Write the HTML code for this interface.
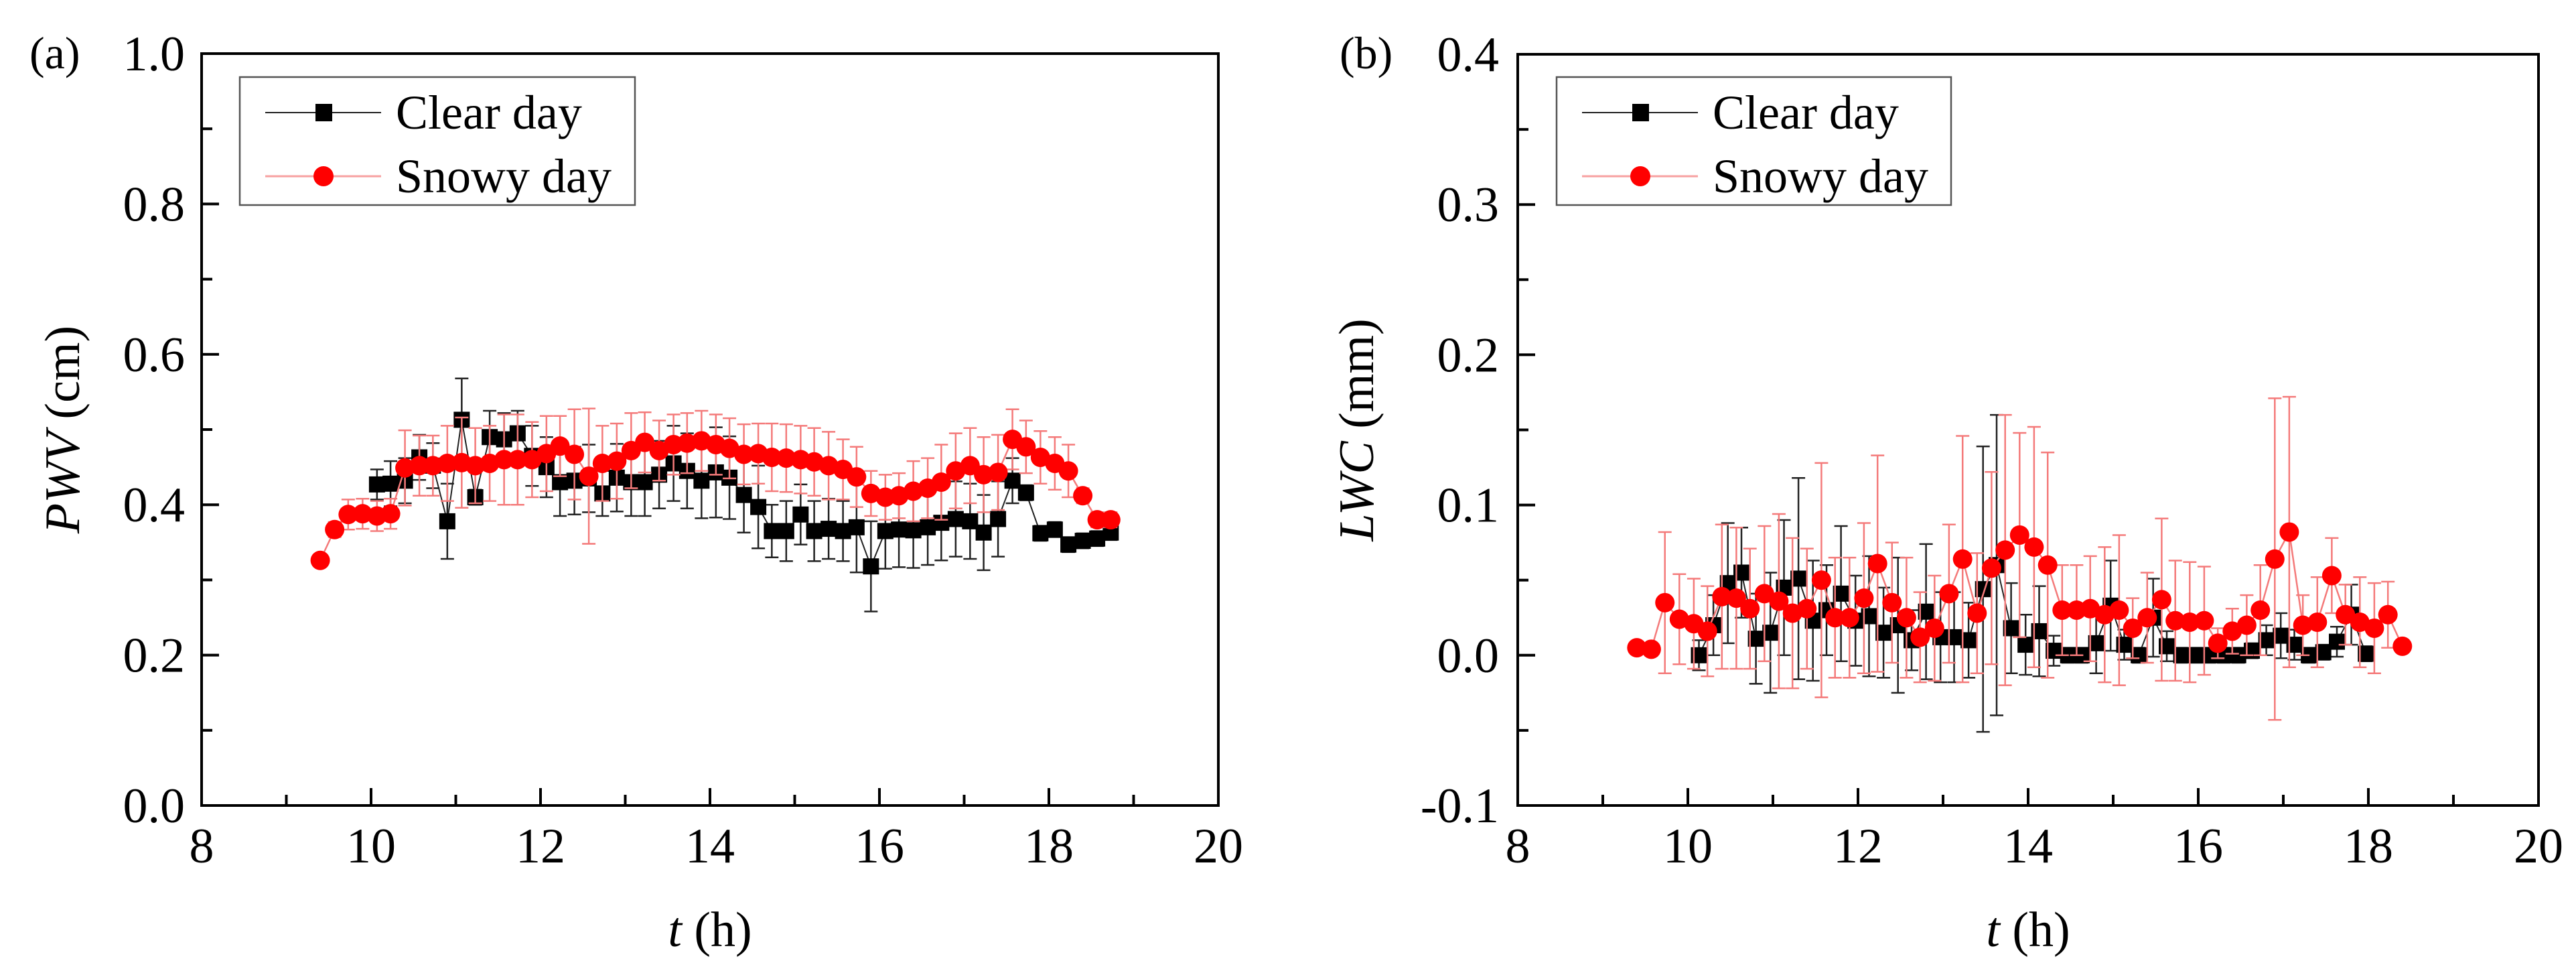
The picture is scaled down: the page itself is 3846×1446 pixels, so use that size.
<!DOCTYPE html>
<html><head><meta charset="utf-8">
<style>
html,body{margin:0;padding:0;background:#fff;}
svg{display:block;font-family:"Liberation Serif",serif;}
</style></head>
<body>
<svg id="fig" width="3846" height="1446" viewBox="0 0 3846 1446" xmlns="http://www.w3.org/2000/svg">
<g id="pa"></g>
<g id="pb"></g>
</svg>
<script>
// ---- Panel (a) PWV data ----
const aSnowT = [9.4,9.57,9.73,9.9,10.07,10.23,10.4,10.57,10.73,10.9,11.07,11.23,11.4,11.57,11.73,11.9,12.07,12.23,12.4,12.57,12.73,12.9,13.07,13.23,13.4,13.57,13.73,13.9,14.07,14.23,14.4,14.57,14.73,14.9,15.07,15.23,15.4,15.57,15.73,15.9,16.07,16.23,16.4,16.57,16.73,16.9,17.07,17.23,17.4,17.57,17.73,17.9,18.07,18.23,18.4,18.57,18.73];
const aSnowV = [0.326,0.367,0.387,0.388,0.385,0.388,0.449,0.452,0.452,0.455,0.456,0.452,0.455,0.46,0.46,0.46,0.468,0.478,0.467,0.438,0.455,0.458,0.472,0.483,0.472,0.48,0.482,0.485,0.48,0.475,0.467,0.468,0.463,0.462,0.46,0.457,0.452,0.447,0.437,0.415,0.41,0.412,0.418,0.422,0.43,0.445,0.452,0.44,0.443,0.487,0.477,0.463,0.455,0.445,0.412,0.38,0.38];
const aSnowE = [0,0.01,0.02,0.02,0.02,0.02,0.05,0.04,0.04,0.05,0.06,0.05,0.05,0.06,0.06,0.05,0.05,0.04,0.06,0.09,0.05,0.05,0.05,0.04,0.04,0.04,0.04,0.04,0.04,0.04,0.04,0.04,0.045,0.045,0.045,0.045,0.045,0.04,0.04,0.03,0.03,0.03,0.04,0.04,0.05,0.05,0.05,0.05,0.05,0.04,0.035,0.035,0.035,0.035,0.01,0.01,0.01];
const aClearT = [10.07,10.23,10.4,10.57,10.73,10.9,11.07,11.23,11.4,11.57,11.73,11.9,12.07,12.23,12.4,12.57,12.73,12.9,13.07,13.23,13.4,13.57,13.73,13.9,14.07,14.23,14.4,14.57,14.73,14.9,15.07,15.23,15.4,15.57,15.73,15.9,16.07,16.23,16.4,16.57,16.73,16.9,17.07,17.23,17.4,17.57,17.73,17.9,18.07,18.23,18.4,18.57,18.73];
const aClearV = [0.427,0.428,0.432,0.463,0.452,0.378,0.513,0.41,0.49,0.487,0.495,0.465,0.45,0.43,0.432,0.435,0.415,0.436,0.43,0.43,0.44,0.455,0.445,0.432,0.443,0.436,0.413,0.397,0.365,0.365,0.387,0.365,0.368,0.365,0.37,0.318,0.365,0.367,0.366,0.37,0.376,0.381,0.378,0.363,0.381,0.432,0.416,0.362,0.367,0.347,0.352,0.355,0.363];
const aClearE = [0.02,0.03,0.03,0.03,0.03,0.05,0.055,0.01,0.035,0.035,0.03,0.04,0.04,0.045,0.045,0.045,0.03,0.045,0.045,0.045,0.045,0.05,0.05,0.05,0.06,0.055,0.05,0.055,0.035,0.04,0.04,0.04,0.04,0.04,0.06,0.06,0.05,0.05,0.05,0.05,0.05,0.05,0.05,0.05,0.05,0.03,0.01,0.01,0.01,0.01,0.01,0.01,0.01];
const aYTicks = ["0.0","0.2","0.4","0.6","0.8","1.0"];
const aYVals = [0,0.2,0.4,0.6,0.8,1.0];
// ---- Panel (b) LWC data ----
const bSnowT = [9.4,9.57,9.73,9.9,10.07,10.23,10.4,10.57,10.73,10.9,11.07,11.23,11.4,11.57,11.73,11.9,12.07,12.23,12.4,12.57,12.73,12.9,13.07,13.23,13.4,13.57,13.73,13.9,14.07,14.23,14.4,14.57,14.73,14.9,15.07,15.23,15.4,15.57,15.73,15.9,16.07,16.23,16.4,16.57,16.73,16.9,17.07,17.23,17.4,17.57,17.73,17.9,18.07,18.23,18.4];
const bSnowV = [0.005,0.004,0.035,0.024,0.021,0.016,0.039,0.038,0.031,0.041,0.036,0.028,0.031,0.05,0.025,0.025,0.038,0.061,0.035,0.025,0.012,0.018,0.041,0.064,0.028,0.058,0.07,0.08,0.072,0.06,0.03,0.03,0.031,0.027,0.03,0.018,0.025,0.037,0.023,0.022,0.023,0.008,0.016,0.02,0.03,0.064,0.082,0.02,0.022,0.053,0.027,0.022,0.018,0.027,0.006];
const bSnowE = [0,0,0.047,0.03,0.03,0.03,0.048,0.047,0.04,0.045,0.058,0.05,0.04,0.078,0.04,0.04,0.05,0.072,0.04,0.04,0.03,0.035,0.046,0.082,0.04,0.064,0.09,0.068,0.08,0.075,0.03,0.03,0.035,0.045,0.05,0.02,0.03,0.054,0.04,0.04,0.036,0.01,0.015,0.02,0.03,0.107,0.09,0.02,0.03,0.025,0.02,0.03,0.03,0.022,0];
const bClearT = [10.13,10.3,10.47,10.63,10.8,10.97,11.13,11.3,11.47,11.63,11.8,11.97,12.13,12.3,12.47,12.63,12.8,12.97,13.13,13.3,13.47,13.63,13.8,13.97,14.13,14.3,14.47,14.63,14.8,14.97,15.13,15.3,15.47,15.63,15.8,15.97,16.13,16.3,16.47,16.63,16.8,16.97,17.13,17.3,17.47,17.63,17.8,17.97];
const bClearV = [0.0,0.02,0.048,0.055,0.011,0.015,0.045,0.051,0.023,0.03,0.041,0.023,0.026,0.015,0.02,0.01,0.029,0.012,0.012,0.01,0.044,0.06,0.018,0.007,0.016,0.003,0.0,0.0,0.008,0.033,0.007,0.0,0.025,0.006,0.0,0.0,0.0,0.0,0.0,0.003,0.01,0.013,0.007,0.0,0.002,0.009,0.027,0.001];
const bClearE = [0.01,0.02,0.04,0.03,0.03,0.04,0.045,0.067,0.04,0.03,0.045,0.03,0.04,0.03,0.045,0.02,0.045,0.03,0.03,0.025,0.095,0.1,0.03,0.02,0.03,0.01,0.005,0.005,0.02,0.03,0.01,0.005,0.026,0.01,0.005,0.005,0.005,0.005,0.005,0.005,0.01,0.015,0.01,0.005,0.005,0.01,0.02,0.005];
const bYTicks = ["-0.1","0.0","0.1","0.2","0.3","0.4"];
const bYVals = [-0.1,0,0.1,0.2,0.3,0.4];
const xTicks = [8,10,12,14,16,18,20];

const NS = "http://www.w3.org/2000/svg";
function mk(parent, tag, attrs){
  const e = document.createElementNS(NS, tag);
  for (const k in attrs) e.setAttribute(k, attrs[k]);
  parent.appendChild(e);
  return e;
}

function panel(g, cfg){
  const {L,R,T,B,ymin,ymax} = cfg;
  const sx = t => L + (t-8)/12*(R-L);
  const sy = v => B - (v-ymin)/(ymax-ymin)*(B-T);

  // frame
  const frame = mk(g,'rect',{x:L,y:T,width:R-L,height:B-T,fill:'none',stroke:'#000','stroke-width':4});
  
  

  // x ticks
  for (let h=9; h<=19; h++){
    const len = (h%2===0)?26:16;
    const tk = mk(g,'line',{x1:sx(h),x2:sx(h),y1:B,y2:B-len,stroke:'#000','stroke-width':4});
    
    
  }
  xTicks.forEach(h=>{
    const t = mk(g,'text',{x:sx(h),y:B+85,'font-size':74,'text-anchor':'middle'});
    t.textContent = h;
    
    
  });
  // y ticks
  const step = cfg.yVals[1]-cfg.yVals[0];
  cfg.yVals.forEach((v,i)=>{
    const y = sy(v);
    if (i>0 && i<cfg.yVals.length-1){
      const tk = mk(g,'line',{x1:L,x2:L+26,y1:y,y2:y,stroke:'#000','stroke-width':4});
      
      
    }
    if (i<cfg.yVals.length-1){
      const ym = sy(v+step/2);
      const mt = mk(g,'line',{x1:L,x2:L+16,y1:ym,y2:ym,stroke:'#000','stroke-width':4});
      
      
    }
    const t = mk(g,'text',{x:cfg.tickRight,y:y+25,'font-size':74,'text-anchor':'end'});
    t.textContent = cfg.yTicks[i];
    
    
  });

  // series
  function series(T_, V_, E_, col, lineCol, lw, shape, nm){
    const sg = mk(g,'g',{});
    
    
    // error bars
    T_.forEach((t,i)=>{
      const e = E_[i]; if (!e) return;
      const x = sx(t), y1 = sy(V_[i]+e), y2 = sy(V_[i]-e);
      const eb = mk(sg,'path',{d:`M${x},${y1}V${y2}M${x-10},${y1}H${x+10}M${x-10},${y2}H${x+10}`,stroke:lineCol,'stroke-width':2.5,fill:'none'});
      
      
    });
    const pts = T_.map((t,i)=>sx(t)+','+sy(V_[i])).join(' ');
    const pl = mk(sg,'polyline',{points:pts,fill:'none',stroke:lineCol,'stroke-width':lw});
    
    
    T_.forEach((t,i)=>{
      const x = sx(t), y = sy(V_[i]);
      let m;
      if (shape==='sq') m = mk(sg,'rect',{x:x-12,y:y-12,width:24,height:24,fill:col});
      else m = mk(sg,'circle',{cx:x,cy:y,r:14.5,fill:col});
      
      
    });
  }
  series(cfg.cT,cfg.cV,cfg.cE,'#000','#222',2,'sq','clear-day');
  series(cfg.sT,cfg.sV,cfg.sE,'#f00','#f47a7a',2.5,'ci','snowy-day');

  // legend
  const lg = mk(g,'g',{});
  
  
  const lb = mk(lg,'rect',{x:cfg.legX,y:115,width:cfg.legW,height:191,fill:'#fff',stroke:'#555','stroke-width':2.5});
  
  
  const lx = cfg.legX+38;
  [['Clear day',168,'#222',2,'sq','#000'],['Snowy day',263,'#f7a0a0',3,'ci','#f00']].forEach(r=>{
    const ln = mk(lg,'line',{x1:lx,x2:lx+173,y1:r[1],y2:r[1],stroke:r[2],'stroke-width':r[3]});
    
    
    let m;
    if (r[4]==='sq') m = mk(lg,'rect',{x:lx+75,y:r[1]-13,width:25,height:26,fill:r[5]});
    else m = mk(lg,'circle',{cx:lx+87,cy:r[1],r:15,fill:r[5]});
    
    
    const t = mk(lg,'text',{x:lx+195,y:r[1]+24,'font-size':72});
    t.textContent = r[0];
    
    
  });

  // panel label
  const pl = mk(g,'text',{x:cfg.labX,y:102,'font-size':68});
  pl.textContent = cfg.lab;
  
  
  // x title
  const xt = mk(g,'text',{x:(L+R)/2,y:1412,'font-size':74,'text-anchor':'middle'});
  xt.innerHTML = '<tspan font-style="italic">t</tspan> (h)';
  
  
  // y title
  const cy = (T+B)/2;
  const yt = mk(g,'text',{x:cfg.ytX,y:cy,'font-size':74,'text-anchor':'middle',transform:`rotate(-90 ${cfg.ytX} ${cy})`});
  yt.innerHTML = `<tspan font-style="italic">${cfg.yName}</tspan> ${cfg.yUnit}`;
  
  
}

panel(document.getElementById('pa'),{L:301,R:1819,T:80,B:1202,ymin:0,ymax:1,yVals:aYVals,yTicks:aYTicks,tickRight:276,
  cT:aClearT,cV:aClearV,cE:aClearE,sT:aSnowT,sV:aSnowV,sE:aSnowE,legX:358,legW:590,lab:'(a)',labX:44,ytX:118,yName:'PWV',yUnit:'(cm)'});
panel(document.getElementById('pb'),{L:2266,R:3790,T:81,B:1202,ymin:-0.1,ymax:0.4,yVals:bYVals,yTicks:bYTicks,tickRight:2238,
  cT:bClearT,cV:bClearV,cE:bClearE,sT:bSnowT,sV:bSnowV,sE:bSnowE,legX:2324,legW:589,lab:'(b)',labX:2000,ytX:2050,yName:'LWC',yUnit:'(mm)'});
</script>
</body></html>
